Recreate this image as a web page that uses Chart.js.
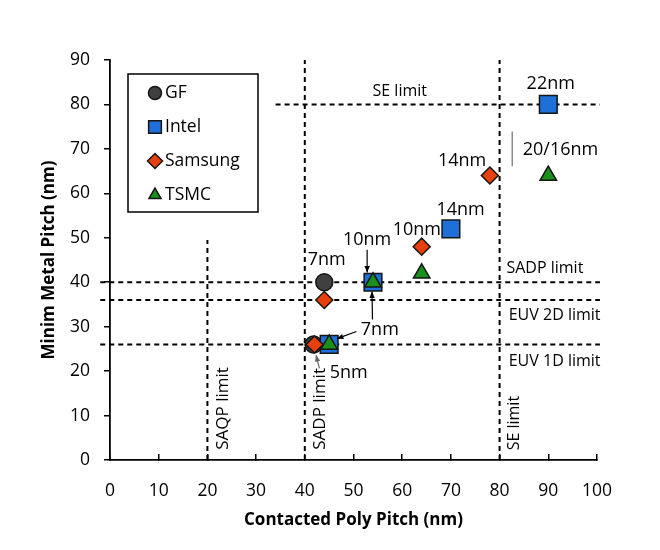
<!DOCTYPE html>
<html>
<head>
<meta charset="utf-8">
<script src="https://cdn.jsdelivr.net/npm/chart.js@4.4.1/dist/chart.umd.min.js"></script>
<style>
  html, body { margin: 0; background: #fff; }
</style>
</head>
<body>
<canvas id="myChart" width="660" height="550"></canvas>
<script>
// contacted poly pitch (x) and minimum metal pitch (y), nm
const gfPoly = [44, 41.8];
const gfMetal = [40, 26];
const intelPoly = [90, 70, 54, 45];
const intelMetal = [80, 52, 40, 26];
const samsungPoly = [78, 64, 44, 42];
const samsungMetal = [64, 48, 36, 26];
const tsmcPoly = [90, 64, 54, 45];
const tsmcMetal = [64, 42, 40, 26];

const companies = ["GF", "Intel", "Samsung", "TSMC"];
const hLimits = [80, 40, 36, 26];
const hLimitNames = ["SE limit", "SADP limit", "EUV 2D limit", "EUV 1D limit"];
const vLimits = [20, 40, 80];
const vLimitNames = ["SAQP limit", "SADP limit", "SE limit"];
const nodeNames = ["22nm", "14nm", "20/16nm", "14nm", "10nm", "10nm", "7nm", "7nm", "5nm"];

const colors = {
  gf: "#404040",
  intel: "#1f6fd8",
  samsung: "#e8400c",
  tsmc: "#1a8f1a",
  edge: "#151515",
};
const FONT = "'Open Sans', sans-serif";

function pts(xs, ys) {
  return xs.map((x, i) => ({ x: x, y: ys[i] }));
}

// where things sit (data units)
const hSpans = [[34, 100.6], [-2, 100.6], [-2, 100.6], [-2, 100.6]];
const vSpans = [[0, 49.5], [0, 90], [0, 90]];
const hLabelPos = [[59.5, 83], [89.3, 43.2], [91.3, 32.6], [91.3, 22.1]];
const vLabelPos = [[23.2, 11.6], [43.1, 11.5], [83, 8.3]];
const vLabelSize = [17, 17, 16];
const nodePos = [[90.5, 84.6], [72.3, 67.2], [92.5, 69.8], [72, 56.3], [63, 51.8], [52.8, 49.5], [44.5, 45], [55.4, 29.3], [49, 19.6]];

const markers = {
  id: "markers",
  beforeDatasetsDraw(chart) {
    const { ctx, scales } = chart;
    const X = (v) => scales.x.getPixelForValue(v);
    const Y = (v) => scales.y.getPixelForValue(v);
    ctx.save();
    ctx.strokeStyle = "#000";
    ctx.lineWidth = 2;
    ctx.setLineDash([5, 4]);
    hLimits.forEach((v, i) => {
      ctx.beginPath();
      ctx.moveTo(X(hSpans[i][0]), Y(v));
      ctx.lineTo(X(hSpans[i][1]), Y(v));
      ctx.stroke();
    });
    vLimits.forEach((v, i) => {
      ctx.beginPath();
      ctx.moveTo(X(v), Y(vSpans[i][0]));
      ctx.lineTo(X(v), Y(vSpans[i][1]));
      ctx.stroke();
    });
    ctx.restore();
  },
  afterDatasetsDraw(chart) {
    const { ctx, scales, chartArea } = chart;
    const X = (v) => scales.x.getPixelForValue(v);
    const Y = (v) => scales.y.getPixelForValue(v);
    ctx.save();
    ctx.fillStyle = "#000";
    ctx.textAlign = "center";
    ctx.textBaseline = "middle";

    ctx.font = "16px " + FONT;
    hLimitNames.forEach((t, i) => ctx.fillText(t, X(hLabelPos[i][0]), Y(hLabelPos[i][1])));
    vLimitNames.forEach((t, i) => {
      ctx.save();
      ctx.font = vLabelSize[i] + "px " + FONT;
      ctx.translate(X(vLabelPos[i][0]), Y(vLabelPos[i][1]));
      ctx.rotate(-Math.PI / 2);
      ctx.fillText(t, 0, 0);
      ctx.restore();
    });

    ctx.font = "18px " + FONT;
    nodeNames.forEach((t, i) => ctx.fillText(t, X(nodePos[i][0]), Y(nodePos[i][1])));

    // bracket next to 20/16nm
    ctx.strokeStyle = "#8a8a8a";
    ctx.lineWidth = 1.5;
    ctx.beginPath();
    ctx.moveTo(X(82.6), Y(73.9));
    ctx.lineTo(X(82.6), Y(66.1));
    ctx.stroke();

    function arrow(x1, y1, x2, y2, col) {
      const ax = X(x1), ay = Y(y1), bx = X(x2), by = Y(y2);
      const a = Math.atan2(by - ay, bx - ax);
      ctx.strokeStyle = col;
      ctx.fillStyle = col;
      ctx.lineWidth = 1.2;
      ctx.beginPath();
      ctx.moveTo(ax, ay);
      ctx.lineTo(bx, by);
      ctx.stroke();
      ctx.beginPath();
      ctx.moveTo(bx, by);
      ctx.lineTo(bx - 7 * Math.cos(a - 0.4), by - 7 * Math.sin(a - 0.4));
      ctx.lineTo(bx - 7 * Math.cos(a + 0.4), by - 7 * Math.sin(a + 0.4));
      ctx.closePath();
      ctx.fill();
    }
    arrow(52.8, 47.3, 52.8, 42.2, "#000");
    arrow(53.9, 31.6, 53.8, 37.9, "#000");
    arrow(50.6, 28.9, 46.6, 27.3, "#000");
    arrow(43, 20.6, 42.3, 23.6, "#666");

    // legend box
    const lx = chartArea.left + 18, ly = chartArea.top + 14;
    ctx.setLineDash([]);
    ctx.fillStyle = "#fff";
    ctx.fillRect(lx, ly, 130, 138);
    ctx.strokeStyle = "#000";
    ctx.lineWidth = 1.5;
    ctx.strokeRect(lx, ly, 130, 138);
    const styles = [
      ["circle", colors.gf, 6.5],
      ["rect", colors.intel, 9],
      ["rectRot", colors.samsung, 7.5],
      ["triangle", colors.tsmc, 7],
    ];
    ctx.font = "17.5px " + FONT;
    ctx.textAlign = "left";
    companies.forEach((name, i) => {
      const cy = ly + 19 + i * 34;
      ctx.fillStyle = styles[i][1];
      ctx.strokeStyle = colors.edge;
      ctx.lineWidth = 1.5;
      Chart.helpers.drawPoint(ctx, { pointStyle: styles[i][0], radius: styles[i][2], borderWidth: 1.5 }, lx + 27, cy);
      ctx.fillStyle = "#000";
      ctx.fillText(name, lx + 37, cy);
    });
    ctx.restore();
  },
};

const ctx = document.getElementById("myChart");
new Chart(ctx, {
  type: "scatter",
  data: {
    datasets: [
      { label: "GF", data: pts(gfPoly, gfMetal), pointStyle: "circle", pointRadius: 8.5, backgroundColor: colors.gf, borderColor: colors.edge, borderWidth: 1.5, order: 3 },
      { label: "Intel", data: pts(intelPoly, intelMetal), pointStyle: "rect", pointRadius: 12.5, backgroundColor: colors.intel, borderColor: colors.edge, borderWidth: 1.5, order: 2 },
      { label: "Samsung", data: pts(samsungPoly, samsungMetal), pointStyle: "rectRot", pointRadius: 8.5, backgroundColor: colors.samsung, borderColor: colors.edge, borderWidth: 1.5, order: 1 },
      { label: "TSMC", data: pts(tsmcPoly, tsmcMetal), pointStyle: "triangle", pointRadius: 9.5, backgroundColor: colors.tsmc, borderColor: colors.edge, borderWidth: 1.5, order: 0 },
    ],
  },
  options: {
    responsive: false,
    animation: false,
    events: [],
    layout: { padding: { left: 0, right: 63, top: 60, bottom: 0 } },
    plugins: {
      legend: { display: false },
      tooltip: { enabled: false },
    },
    scales: {
      x: {
        type: "linear",
        min: 0,
        max: 100,
        ticks: { stepSize: 10, color: "#000", padding: 27, font: { family: FONT, size: 17.5 } },
        grid: { drawOnChartArea: false, drawTicks: true, tickLength: -6, color: "#000", lineWidth: 1.5 },
        border: { color: "#000", width: 1.8 },
        title: { display: true, text: "Contacted Poly Pitch (nm)", color: "#000", font: { family: FONT, size: 17, weight: "bold" }, padding: { top: 0, bottom: 20 } },
        afterFit(s) { s.height = 90; },
      },
      y: {
        type: "linear",
        min: 0,
        max: 90,
        ticks: { stepSize: 10, color: "#000", padding: 14, font: { family: FONT, size: 17.5 } },
        grid: { drawOnChartArea: false, drawTicks: true, tickLength: 6, color: "#000", lineWidth: 1.5 },
        border: { color: "#000", width: 1.8 },
        title: { display: true, text: "Minim Metal Pitch (nm)", color: "#000", font: { family: FONT, size: 17, weight: "bold" }, padding: { top: 39, bottom: 0 } },
        afterFit(s) { s.width = 110; },
      },
    },
  },
  plugins: [markers],
});
</script>
</body>
</html>
